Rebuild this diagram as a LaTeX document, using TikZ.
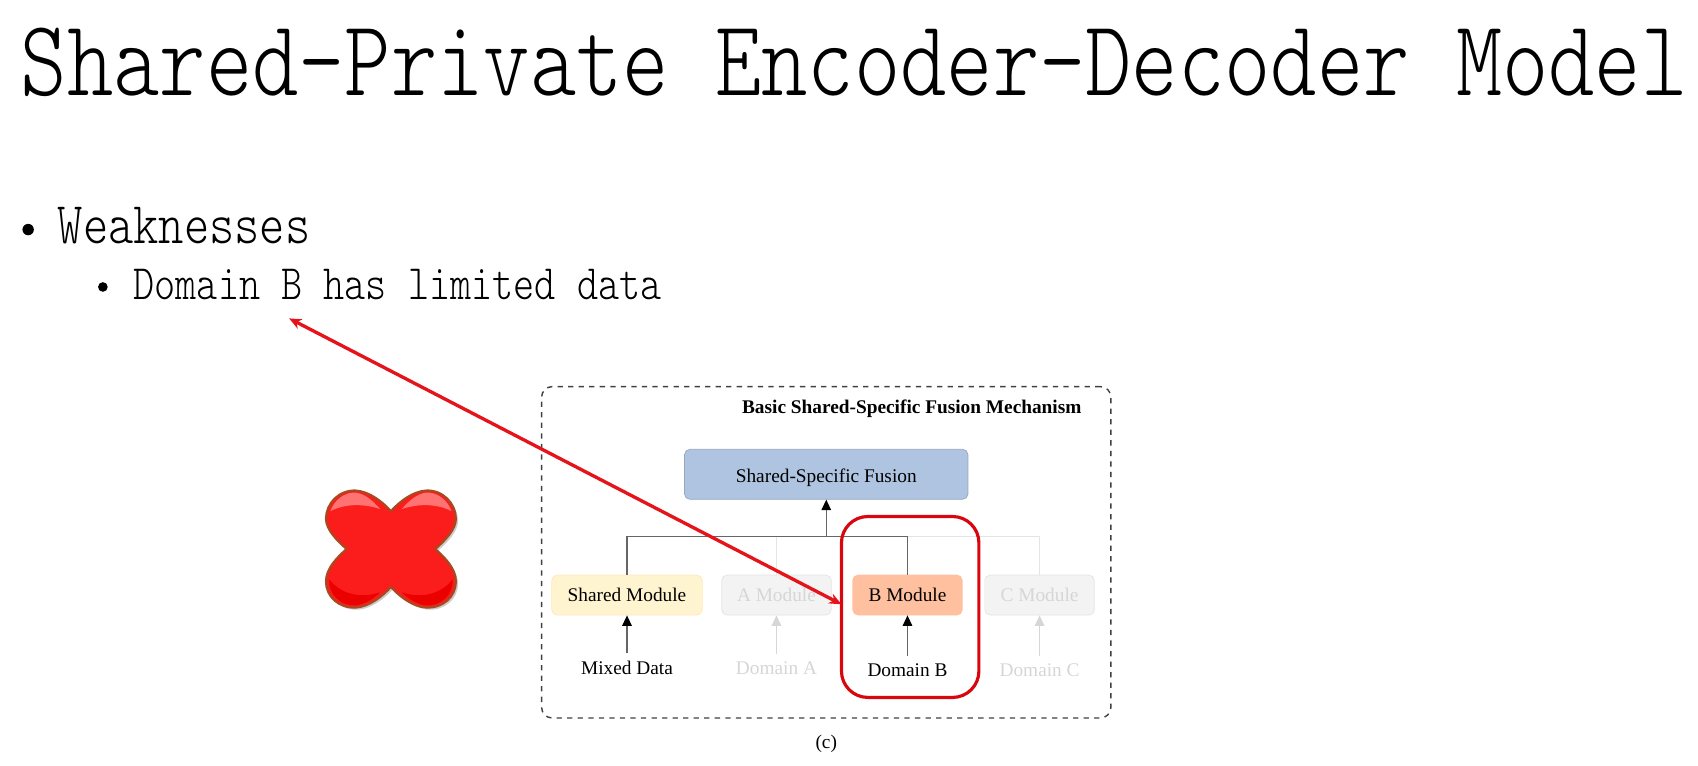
\documentclass[tikz,border=0pt]{standalone}
\usepackage{fontspec}
\setmainfont{Liberation Serif}
\usetikzlibrary{calc,arrows.meta}

\definecolor{fusionblue}{HTML}{AFC4E0}
\definecolor{sharedyellow}{HTML}{FFF4D0}
\definecolor{modulered}{HTML}{FFC0A0}
\definecolor{fadedfill}{HTML}{F3F3F3}
\definecolor{fadedline}{HTML}{E4E4E4}
\definecolor{fadedtext}{HTML}{D6D6D6}
\definecolor{markred}{HTML}{E5141A}
\definecolor{boxred}{HTML}{D8060E}
\definecolor{crossred}{HTML}{FB1C1C}
\definecolor{crossedge}{HTML}{A84A20}

\newcommand{\tallmono}[2]{\scalebox{1}[1.23]{\fontsize{#1}{#1}\fontseries{l}\ttfamily #2}}

\tikzset{
  slidetext/.style={anchor=base west, inner sep=0pt},
  figlabel/.style={font=\fontsize{11pt}{12pt}\selectfont, inner sep=0pt},
  modulebox/.style={rounded corners=3pt, minimum height=0.80cm, inner sep=0pt, font=\fontsize{11pt}{12pt}\selectfont},
  darkline/.style={draw=black!60, line width=0.6pt},
  fadedconn/.style={draw=fadedline, line width=0.6pt},
}

\begin{document}
\begin{tikzpicture}[x=0.02166cm, y=-0.02166cm]
    \useasboundingbox (0,0) rectangle (1568,707.3);

    % draw slide text
    \node[slidetext] (title) at (19,88) {\tallmono{50.2pt}{Shared-Private Encoder-Decoder Model}};
    \node[slidetext] (weak) at (53,225) {\tallmono{27.4pt}{Weaknesses}};
    \node[slidetext] (limited) at (123,277) {\tallmono{22.9pt}{Domain B has limited data}};
    \node[circle, fill=black, inner sep=0pt, minimum size=6.5pt] (bulletA) at (26,212) {};
    \node[circle, fill=black, inner sep=0pt, minimum size=5.5pt] (bulletB) at (95,265) {};

    % draw outer dashed frame
    \node[draw=black!75, dashed, line width=0.8pt, rounded corners=6pt, minimum width=11.39cm, minimum height=6.63cm, inner sep=0pt] (frame) at (763,510) {};
    \node[figlabel, anchor=east, font=\fontsize{11pt}{12pt}\selectfont\bfseries] (frametitle) at (999,377) {Basic Shared-Specific Fusion Mechanism};
    \node[figlabel] (caption) at (763,687) {(c)};

    % draw modules
    \node[modulebox, fill=fusionblue, draw=fusionblue!85!black, minimum width=5.67cm, minimum height=1cm, text depth=0pt] (fusion) at (763,438) {\raisebox{-2pt}{Shared-Specific Fusion}};
    \node[modulebox, fill=sharedyellow, draw=sharedyellow!90!orange, minimum width=3.01cm] (shared) at (579,549.5) {Shared Module};
    \node[modulebox, fill=fadedfill, draw=fadedline, text=fadedtext, minimum width=2.19cm] (moda) at (717,549.5) {A Module};
    \node[modulebox, fill=modulered, draw=modulered, minimum width=2.19cm] (modb) at (838,549.5) {B Module};
    \node[modulebox, fill=fadedfill, draw=fadedline, text=fadedtext, minimum width=2.19cm] (modc) at (960,549.5) {C Module};

    % draw data labels
    \node[figlabel] (mixed) at (579,617) {Mixed Data};
    \node[figlabel, text=fadedtext] (doma) at (717,617) {Domain A};
    \node[figlabel] (domb) at (838,619) {Domain B};
    \node[figlabel, text=fadedtext] (domc) at (960,619) {Domain C};

    % draw bus lines
    \coordinate (busmid) at (763,495);
    \draw[fadedconn] (moda.north) |- (busmid);
    \draw[fadedconn] (modc.north) |- (busmid);
    \draw[darkline] (shared.north) |- (busmid);
    \draw[darkline] (modb.north) |- (busmid);
    \draw[black!60, line width=0.6pt, -{Triangle[length=6pt,width=5.5pt,color=black]}] (busmid) -- (fusion.south);

    % draw input arrows
    \foreach \from/\into/\col/\head in {mixed/shared/black!60/black, doma/moda/fadedtext/fadedtext, domb/modb/black!60/black, domc/modc/fadedtext/fadedtext}
    \draw[\col, line width=0.6pt, -{Triangle[length=6pt,width=5.5pt,color=\head]}] ($(\from.north)+(0,-7)$) -- (\into.south);

    % draw red marks
    \node[draw=boxred, line width=1.8pt, rounded corners=15pt, minimum width=2.75cm, minimum height=3.62cm, inner sep=0pt] (redbox) at (840.5,560.5) {};
    \coordinate (tipup) at (267,294);
    \coordinate (tipdown) at (777,558);
    \draw[{Stealth[length=7pt,width=6pt]}-{Stealth[length=7pt,width=6pt]}, draw=markred, line width=1.9pt] (tipup) -- (tipdown);

    % draw the cross
    \begin{scope}[shift={(361,507)}]
      \path[fill=black!20] (2,-33) .. controls (10,-42) and (22,-51) .. (34,-52) .. controls (50,-53) and (62,-40) .. (62,-26) .. controls (62,-16) and (52,-6) .. (43,2) .. controls (52,10) and (62,20) .. (62,32) .. controls (62,46) and (50,57) .. (34,56) .. controls (22,55) and (10,46) .. (2,37) .. controls (-6,46) and (-18,55) .. (-30,56) .. controls (-46,57) and (-58,46) .. (-58,32) .. controls (-58,20) and (-48,10) .. (-39,2) .. controls (-48,-6) and (-58,-16) .. (-58,-26) .. controls (-58,-40) and (-46,-53) .. (-30,-52) .. controls (-18,-51) and (-6,-42) .. (2,-33) -- cycle;
      \path[fill=crossred, draw=crossedge, line width=1.2pt] (0,-35) .. controls (8,-44) and (20,-53) .. (32,-54) .. controls (48,-55) and (60,-42) .. (60,-28) .. controls (60,-18) and (50,-8) .. (41,0) .. controls (50,8) and (60,18) .. (60,30) .. controls (60,44) and (48,55) .. (32,54) .. controls (20,53) and (8,44) .. (0,35) .. controls (-8,44) and (-20,53) .. (-32,54) .. controls (-48,55) and (-60,44) .. (-60,30) .. controls (-60,18) and (-50,8) .. (-41,0) .. controls (-50,-8) and (-60,-18) .. (-60,-28) .. controls (-60,-42) and (-48,-55) .. (-32,-54) .. controls (-20,-53) and (-8,-44) .. (0,-35) -- cycle;
      \path[fill=red!55!white] (-56,-35) .. controls (-52,-46) and (-42,-53) .. (-32,-52) .. controls (-24,-51) and (-16,-44) .. (-10,-37) .. controls (-26,-42) and (-42,-42) .. (-56,-35) -- cycle;
      \path[fill=red!55!white] (56,-35) .. controls (52,-46) and (42,-53) .. (32,-52) .. controls (24,-51) and (16,-44) .. (10,-37) .. controls (26,-42) and (42,-42) .. (56,-35) -- cycle;
      \path[fill=red!92!black] (57,28) .. controls (58,42) and (46,53) .. (32,52) .. controls (24,51) and (16,46) .. (10,40) .. controls (28,46) and (46,42) .. (57,28) -- cycle;
      \path[fill=red!92!black] (-57,28) .. controls (-58,42) and (-46,53) .. (-32,52) .. controls (-24,51) and (-16,46) .. (-10,40) .. controls (-28,46) and (-46,42) .. (-57,28) -- cycle;
    \end{scope}
\end{tikzpicture}
\end{document}
